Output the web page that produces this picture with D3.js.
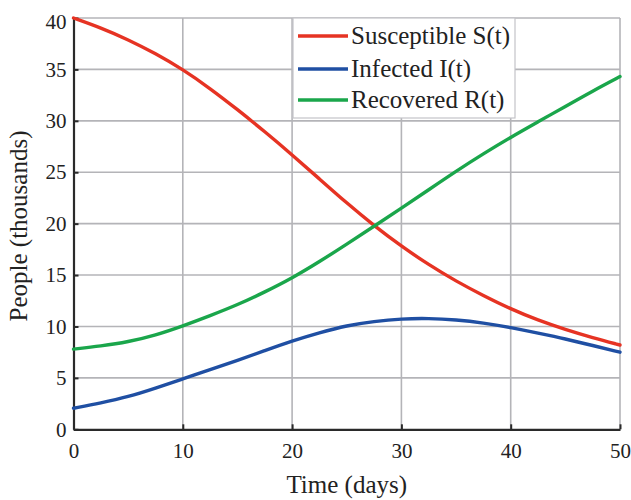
<!DOCTYPE html>
<html><head><meta charset="utf-8">
<script src="https://cdn.jsdelivr.net/npm/d3@7"></script>
<style>body{margin:0;background:#fff}svg{display:block}text{font-family:'Liberation Serif','DejaVu Serif',serif;fill:#222}</style>
</head><body>
<svg id="c" width="631" height="500"></svg>
<script>
const days = [0,2.5,5,7.5,10,12.5,15,17.5,20,22.5,25,27.5,30,32.5,35,37.5,40,42.5,45,47.5,50];
const susceptible = [40,39.05,37.9,36.55,35.0,33.15,31.1,28.95,26.7,24.35,22.0,19.8,17.8,16.0,14.4,13.0,11.7,10.6,9.7,8.9,8.2];
const infected    = [2.05,2.55,3.15,4.0,4.9,5.8,6.7,7.65,8.6,9.4,10.1,10.5,10.75,10.8,10.65,10.35,9.9,9.35,8.8,8.15,7.5];
const recovered   = [7.8,8.1,8.5,9.15,10.05,11.05,12.1,13.35,14.7,16.3,18.0,19.75,21.5,23.3,25.1,26.8,28.4,29.9,31.4,32.9,34.3];
const xTicks = [0,10,20,30,40,50];
const yTicks = [0,5,10,15,20,25,30,35,40];
const seriesNames = ["Susceptible S(t)","Infected I(t)","Recovered R(t)"];
const seriesColors = ["#e63323","#1f4fa3","#1aa64b"];
const seriesValues = [susceptible, infected, recovered];

const FONT = "'Liberation Serif','DejaVu Serif',serif";
const svg = d3.select("#c");
const L = 73.5, R = 620, T = 18, B = 429.3;
const x = d3.scaleLinear().domain([0,50]).range([L,R]);
const y = d3.scaleLinear().domain([0,40]).range([B,T]);

// grid
const g = svg.append("g");
g.selectAll(".vx").data(xTicks.slice(1)).join("line")
  .attr("x1",d=>x(d)).attr("x2",d=>x(d)).attr("y1",B).attr("y2",T)
  .attr("stroke","#b4b4b8").attr("stroke-width",1.6);
g.selectAll(".hy").data(yTicks.slice(1)).join("line")
  .attr("x1",L).attr("x2",R).attr("y1",d=>y(d)).attr("y2",d=>y(d))
  .attr("stroke","#b4b4b8").attr("stroke-width",1.6);

// axes
const xa = svg.append("g").attr("transform",`translate(0,${B})`)
  .call(d3.axisBottom(x).tickValues(xTicks).tickSize(-5).tickPadding(14).tickSizeOuter(0));
const ya = svg.append("g").attr("transform",`translate(${L},0)`)
  .call(d3.axisLeft(y).tickValues(yTicks).tickSize(-5).tickPadding(7).tickSizeOuter(0));
[xa,ya].forEach(a=>{
  a.attr("font-family",FONT).attr("font-size",21);
  a.select(".domain").attr("stroke","#2a2a2a").attr("stroke-width",2.2);
  a.selectAll(".tick line").attr("stroke","#2a2a2a").attr("stroke-width",2);
  a.selectAll("text").attr("fill","#222");
});
xa.selectAll("text").attr("dy","0.71em");
ya.selectAll(".tick text").filter(d=>d===40).attr("dy","0.5em");

// lines
const line = d3.line().x((d,i)=>x(days[i])).y(d=>y(d)).curve(d3.curveBasis);
seriesValues.forEach((vals,k)=>{
  svg.append("path").datum(vals).attr("d",line).attr("fill","none")
    .attr("stroke",seriesColors[k]).attr("stroke-width",3.4).attr("stroke-linecap","round");
});

// legend
const lg = svg.append("g");
lg.append("rect").attr("x",293).attr("y",T).attr("width",222).attr("height",100)
  .attr("fill","#fff").attr("stroke","#c4c4c8").attr("stroke-width",1.2);
const rowsY = [36,69,100];
seriesNames.forEach((n,k)=>{
  lg.append("line").attr("x1",298).attr("x2",348).attr("y1",rowsY[k]).attr("y2",rowsY[k])
    .attr("stroke",seriesColors[k]).attr("stroke-width",3.4);
  lg.append("text").attr("x",351).attr("y",rowsY[k]).attr("dy","0.33em")
    .attr("font-family",FONT).attr("font-size",25).text(n);
});

// titles
svg.append("text").attr("x",(L+R)/2).attr("y",493).attr("text-anchor","middle")
  .attr("font-family",FONT).attr("font-size",25).text("Time (days)");
svg.append("text").attr("transform","translate(27,226) rotate(-90)").attr("text-anchor","middle")
  .attr("font-family",FONT).attr("font-size",25).text("People (thousands)");
</script>
</body></html>
